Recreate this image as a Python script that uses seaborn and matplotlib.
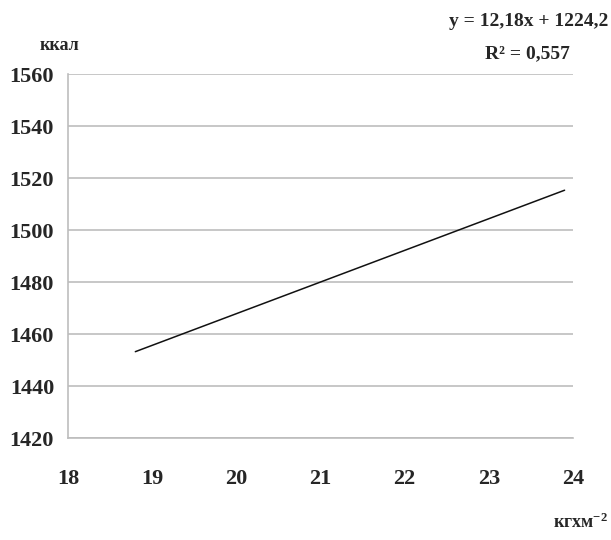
import matplotlib.pyplot as plt
import seaborn as sns
import pandas as pd

# trend line endpoints
bmi = [18.8, 23.9]
kcal = [1453.2, 1515.3]
x_ticks = [18, 19, 20, 21, 22, 23, 24]
y_ticks = [1420, 1440, 1460, 1480, 1500, 1520, 1540, 1560]

sns.set_style("white")
plt.rcParams["font.family"] = ["Liberation Serif", "DejaVu Serif"]
plt.rcParams["font.weight"] = "bold"
plt.rcParams["mathtext.fontset"] = "custom"
plt.rcParams["mathtext.rm"] = "Liberation Serif:bold"
plt.rcParams["mathtext.default"] = "rm"

fig = plt.figure(figsize=(6.11, 5.4), dpi=100)
ax = fig.add_axes([68 / 611, 1 - 438 / 540, (573 - 68) / 611, (438 - 74) / 540])

df = pd.DataFrame({"bmi": bmi, "kcal": kcal})
sns.lineplot(data=df, x="bmi", y="kcal", ax=ax, color="#111111", linewidth=1.1)

ax.set_xlim(18, 24)
ax.set_ylim(1420, 1560)
ax.set_xticks(x_ticks)
ax.set_yticks(y_ticks)
ax.set_xticklabels([str(t) for t in x_ticks], fontsize=16, fontweight="bold")
ax.set_yticklabels([str(t) for t in y_ticks], fontsize=16, fontweight="bold")
ax.set_xlabel("")
ax.set_ylabel("")

ax.yaxis.grid(True, color="#bdbdbd", linewidth=1.2)
ax.xaxis.grid(False)
for s in ["top", "right"]:
    ax.spines[s].set_visible(False)
for s in ["left", "bottom"]:
    ax.spines[s].set_color("#bdbdbd")
    ax.spines[s].set_linewidth(1.2)
ax.tick_params(axis="x", direction="inout", length=8, color="#bdbdbd", width=1.2, pad=18)
ax.tick_params(axis="y", length=0, pad=10)

fig.text(40 / 611, 1 - 45 / 540, "ккал", fontsize=13, fontweight="bold", ha="left", va="center")
fig.text(608 / 611, 1 - 522 / 540, "кгхм$^{-2}$", fontsize=13, fontweight="bold", ha="right", va="center")
fig.text(608 / 611, 1 - 22 / 540, "y = 12,18x + 1224,2", fontsize=14, fontweight="bold", ha="right", va="center")
fig.text(570 / 611, 1 - 54 / 540, "R² = 0,557", fontsize=14, fontweight="bold", ha="right", va="center")

fig.savefig("out.png", dpi=100)
